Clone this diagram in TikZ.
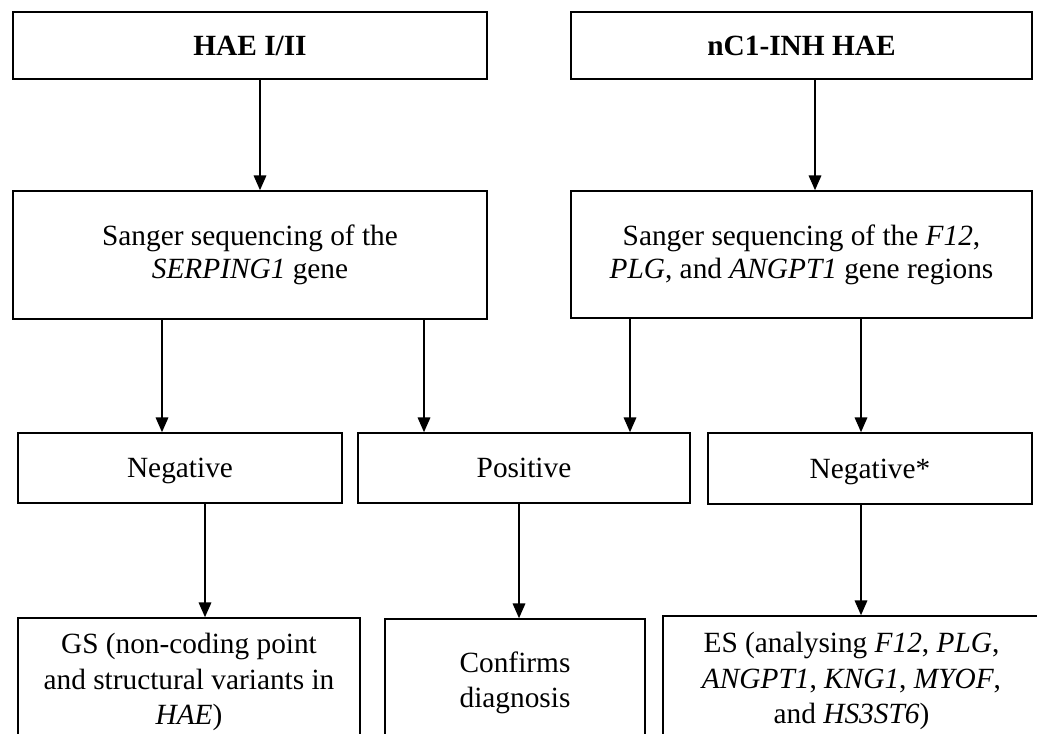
\documentclass[tikz,border=0pt]{standalone}
\usepackage{fontspec}
\setmainfont{Liberation Serif}
\usetikzlibrary{arrows.meta}
\begin{document}
\begin{tikzpicture}[x=0.75pt,y=-0.75pt,
  box/.style={draw=black, line width=1.3pt, rectangle, inner sep=0pt, align=center,
              font=\fontsize{22pt}{25pt}\selectfont},
  onebox/.style={box, text height=14.6pt, text depth=0pt},
  lowbox/.style={box, font=\fontsize{22pt}{26.5pt}\selectfont},
  wh/.style 2 args={minimum width=#1*0.75pt, minimum height=#2*0.75pt},
  arr/.style={line width=0.8pt, -{Triangle[width=9.5pt,length=11pt]}}]
\useasboundingbox (0,0) rectangle (1037,733);
\clip (0,0) rectangle (1037,733);

% row 1
\node[onebox, wh={474}{67}] (A) at (250,45.5) {\textbf{HAE I/II}};
\node[onebox, wh={461}{67}] (B) at (801.5,45.5) {\textbf{nC1-INH HAE}};
% row 2
\node[box, wh={474}{128}] (C) at (250,255) {Sanger sequencing of the\\ \textit{SERPING1} gene};
\node[box, wh={461}{127}] (D) at (801.5,254.5) {Sanger sequencing of the \textit{F12},\\ \textit{PLG}, and \textit{ANGPT1} gene regions};
% row 3
\node[onebox, wh={324}{70}] (E) at (180,468) {Negative};
\node[onebox, wh={332}{70}] (F) at (524,468) {Positive};
\node[onebox, wh={324}{71}] (G) at (870,468.5) {Negative*};
% row 4
\node[lowbox, wh={342}{128}] (H) at (189,682) {GS (non-coding point\\ and structural variants in\\ \textit{HAE})};
\node[lowbox, wh={260}{127}] (I) at (515,682.5) {Confirms\\ diagnosis};
\node[lowbox, wh={377}{130}] (J) at (851.5,681) {ES (analysing \textit{F12}, \textit{PLG},\\ \textit{ANGPT1}, \textit{KNG1}, \textit{MYOF},\\ and \textit{HS3ST6})};

% arrow columns
\coordinate (xa) at (260,0);
\coordinate (xb) at (815,0);
\coordinate (xc) at (162,0);
\coordinate (xd) at (424,0);
\coordinate (xe) at (630,0);
\coordinate (xf) at (861,0);
\coordinate (xg) at (205,0);
\coordinate (xh) at (519,0);

\draw[arr] (A.south -| xa) -- (C.north -| xa);
\draw[arr] (B.south -| xb) -- (D.north -| xb);
\draw[arr] (C.south -| xc) -- (E.north -| xc);
\draw[arr] (C.south -| xd) -- (F.north -| xd);
\draw[arr] (D.south -| xe) -- (F.north -| xe);
\draw[arr] (D.south -| xf) -- (G.north -| xf);
\draw[arr] (E.south -| xg) -- (H.north -| xg);
\draw[arr] (F.south -| xh) -- (I.north -| xh);
\draw[arr] (G.south -| xf) -- (J.north -| xf);
\end{tikzpicture}
\end{document}
